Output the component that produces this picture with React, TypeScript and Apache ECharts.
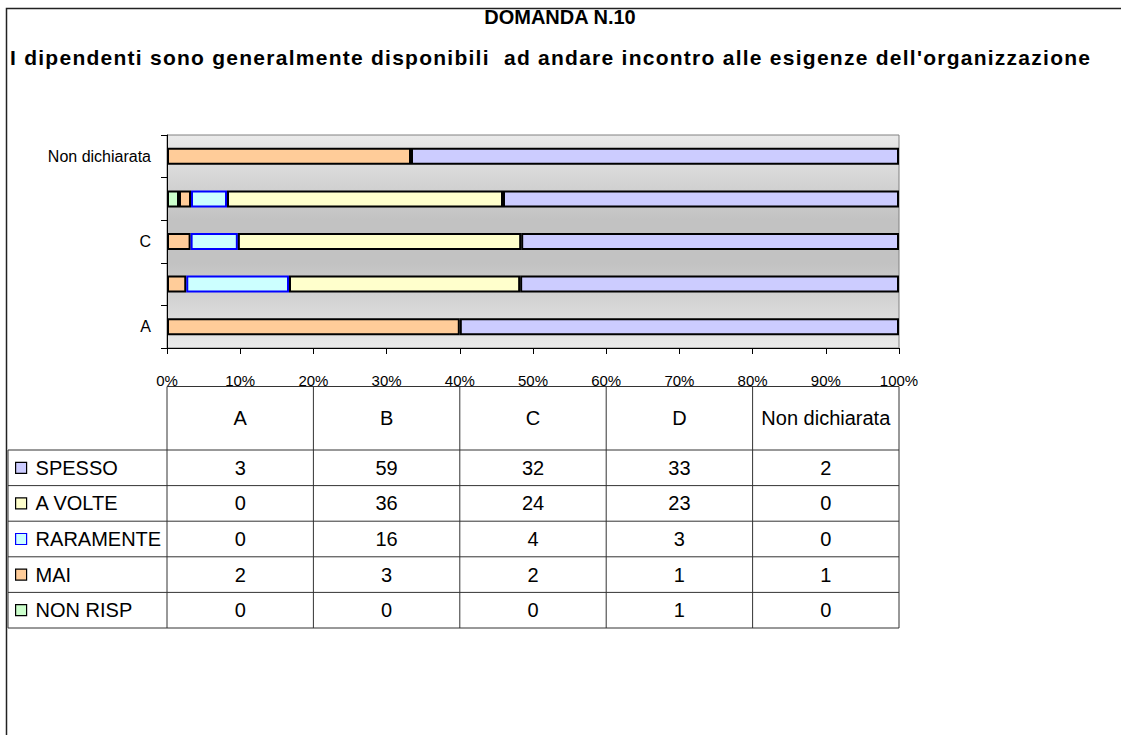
import React, { useEffect, useRef } from "react";
import * as echarts from "echarts";

// ---------- data ----------
const categories = ["A", "B", "C", "D", "Non dichiarata"];
const tableOrder = ["SPESSO", "A VOLTE", "RARAMENTE", "MAI", "NON RISP"];
const spesso = [3, 59, 32, 33, 2];
const aVolte = [0, 36, 24, 23, 0];
const raramente = [0, 16, 4, 3, 0];
const mai = [2, 3, 2, 1, 1];
const nonRisp = [0, 0, 0, 1, 0];

const titleText = "DOMANDA N.10";
const subtitleText =
  "I dipendenti sono generalmente disponibili  ad andare incontro alle esigenze dell'organizzazione";

// ---------- styles ----------
const FONT = "'Liberation Sans', Arial, sans-serif";
const W = 1121;
const H = 735;
const G = { left: 167, right: 899, top: 135, bottom: 348 };
const TABLE = { headTop: 386.5, headBottom: 450, rowH: 35.6, left: 8 };
const SUBTITLE_WIDTH = 1080;

const seriesStyle: Record<string, { fill: string; border: string }> = {
  SPESSO: { fill: "#CCCCFF", border: "#000000" },
  "A VOLTE": { fill: "#FFFFCC", border: "#000000" },
  RARAMENTE: { fill: "#CCFFFF", border: "#0000FF" },
  MAI: { fill: "#FFCC99", border: "#000000" },
  "NON RISP": { fill: "#CCFFCC", border: "#000000" },
};

const valuesByName: Record<string, number[]> = {
  SPESSO: spesso,
  "A VOLTE": aVolte,
  RARAMENTE: raramente,
  MAI: mai,
  "NON RISP": nonRisp,
};

// stacking order from left to right
const stackOrder = ["NON RISP", "MAI", "RARAMENTE", "A VOLTE", "SPESSO"];

export default function App() {
  const ref = useRef<HTMLDivElement>(null);

  useEffect(() => {
    if (!ref.current) return;
    const chart = echarts.init(ref.current, undefined, { renderer: "svg" });

    const totals = categories.map((_, i) =>
      tableOrder.reduce((s, n) => s + valuesByName[n][i], 0)
    );

    const series = stackOrder.map((name) => ({
      name,
      type: "bar",
      stack: "total",
      barCategoryGap: "60%",
      itemStyle: {
        color: seriesStyle[name].fill,
        borderColor: seriesStyle[name].border,
        borderWidth: 2,
      },
      emphasis: { disabled: true },
      data: valuesByName[name].map((v, i) =>
        v === 0 ? "-" : (v / totals[i]) * 100
      ),
    }));

    const colW = (G.right - G.left) / categories.length;
    const lineStyle = { stroke: "#333", lineWidth: 1 };
    const graphics: any[] = [];

    // outer frame (left and top edges visible)
    graphics.push({
      type: "rect",
      shape: { x: 6.5, y: 8.5, width: 1300, height: 900 },
      style: { fill: "none", stroke: "#222", lineWidth: 1.5 },
      silent: true,
    });

    // table horizontal lines
    graphics.push({
      type: "line",
      shape: { x1: G.left, y1: TABLE.headTop, x2: G.right, y2: TABLE.headTop },
      style: lineStyle,
    });
    for (let r = 0; r <= tableOrder.length; r++) {
      const y = TABLE.headBottom + r * TABLE.rowH;
      graphics.push({
        type: "line",
        shape: { x1: TABLE.left, y1: y, x2: G.right, y2: y },
        style: lineStyle,
      });
    }
    const tableBottom = TABLE.headBottom + tableOrder.length * TABLE.rowH;
    // vertical lines
    graphics.push({
      type: "line",
      shape: { x1: TABLE.left, y1: TABLE.headBottom, x2: TABLE.left, y2: tableBottom },
      style: lineStyle,
    });
    for (let c = 0; c <= categories.length; c++) {
      const x = G.left + c * colW;
      graphics.push({
        type: "line",
        shape: { x1: x, y1: TABLE.headTop, x2: x, y2: tableBottom },
        style: lineStyle,
      });
    }
    // header texts
    categories.forEach((cat, c) => {
      graphics.push({
        type: "text",
        x: G.left + (c + 0.5) * colW,
        y: (TABLE.headTop + TABLE.headBottom) / 2,
        style: {
          text: cat,
          font: `20px ${FONT}`,
          fill: "#000",
          textAlign: "center",
          textVerticalAlign: "middle",
        },
      });
    });
    // values
    tableOrder.forEach((name, r) => {
      const y = TABLE.headBottom + (r + 0.5) * TABLE.rowH;
      valuesByName[name].forEach((v, c) => {
        graphics.push({
          type: "text",
          x: G.left + (c + 0.5) * colW,
          y,
          style: {
            text: String(v),
            font: `20px ${FONT}`,
            fill: "#000",
            textAlign: "center",
            textVerticalAlign: "middle",
          },
        });
      });
    });

    // legends inside the table rows
    const legends = tableOrder.map((name, r) => ({
      data: [name],
      orient: "horizontal",
      left: 15,
      top: TABLE.headBottom + (r + 0.5) * TABLE.rowH - 10,
      padding: 0,
      itemGap: 0,
      itemWidth: 11,
      itemHeight: 11,
      icon: "rect",
      selectedMode: false,
      itemStyle: { borderWidth: 1.2 },
      textStyle: {
        fontSize: 20,
        fontFamily: FONT,
        color: "#000",
        padding: [0, 0, 0, 4],
        lineHeight: 20,
      },
    }));

    chart.setOption({
      animation: false,
      backgroundColor: "#ffffff",
      title: [
        {
          text: titleText,
          left: 560,
          top: 7,
          textAlign: "center",
          padding: 0,
          textStyle: {
            fontSize: 20,
            fontWeight: "bold",
            fontFamily: FONT,
            color: "#000",
          },
        },
        {
          text: subtitleText,
          left: 10,
          top: 47,
          padding: 0,
          textStyle: {
            fontSize: 21,
            fontWeight: "bold",
            fontFamily: FONT,
            color: "#000",
          },
        },
      ],
      legend: legends,
      grid: {
        left: G.left,
        top: G.top,
        width: G.right - G.left,
        height: G.bottom - G.top,
        show: true,
        borderColor: "#808080",
        borderWidth: 1,
        backgroundColor: new echarts.graphic.LinearGradient(0, 0, 0, 1, [
          { offset: 0, color: "#eaeaea" },
          { offset: 0.4, color: "#c2c2c2" },
          { offset: 0.6, color: "#c2c2c2" },
          { offset: 1, color: "#eaeaea" },
        ]),
        containLabel: false,
      },
      xAxis: {
        type: "value",
        min: 0,
        max: 100,
        interval: 10,
        axisLine: { show: true, lineStyle: { color: "#000", width: 1 } },
        axisTick: { show: true, length: 6, lineStyle: { color: "#000" } },
        splitLine: { show: false },
        axisLabel: {
          formatter: "{value}%",
          fontSize: 15,
          fontFamily: FONT,
          color: "#000",
          margin: 25,
        },
      },
      yAxis: {
        type: "category",
        data: categories,
        axisLine: { show: true, lineStyle: { color: "#000", width: 1 } },
        axisTick: {
          show: true,
          interval: 0,
          length: 6,
          alignWithLabel: false,
          lineStyle: { color: "#000" },
        },
        axisLabel: {
          interval: 1,
          fontSize: 16,
          fontFamily: FONT,
          color: "#000",
          margin: 16,
        },
        splitLine: { show: false },
      },
      series,
      graphic: graphics,
    });

    // spread the subtitle over its width as in the original (letter spacing)
    const texts = ref.current.querySelectorAll("text");
    texts.forEach((t) => {
      if (t.textContent === subtitleText) {
        t.setAttribute("textLength", String(SUBTITLE_WIDTH));
        t.setAttribute("lengthAdjust", "spacing");
      }
    });

    return () => chart.dispose();
  }, []);

  return (
    <div
      ref={ref}
      style={{ position: "absolute", left: 0, top: 0, width: W, height: H }}
    />
  );
}
